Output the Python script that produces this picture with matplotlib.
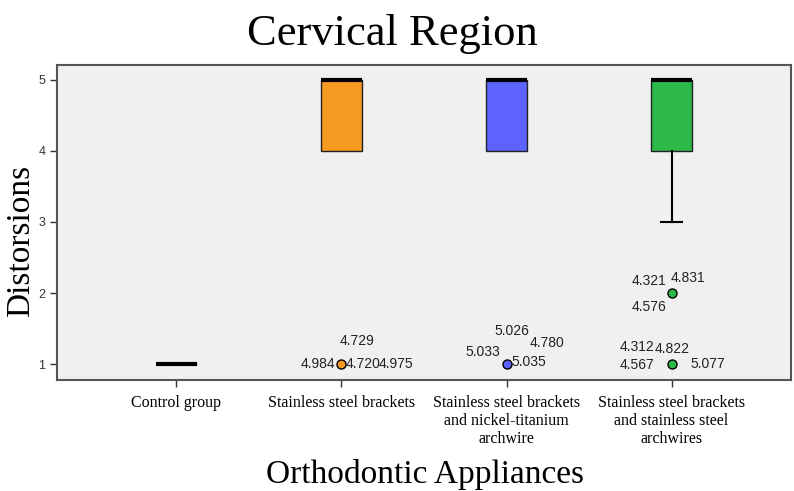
import matplotlib.pyplot as plt

groups = ["Control group",
          "Stainless steel brackets",
          "Stainless steel brackets\nand nickel-titanium\narchwire",
          "Stainless steel brackets\nand stainless steel\narchwires"]
medians = [1, 5, 5, 5]
q1 = [1, 4, 4, 4]
q3 = [1, 5, 5, 5]
whisk_lo = [1, 4, 4, 3]
whisk_hi = [1, 5, 5, 5]
outliers = [[], [1], [1], [2, 1]]
colors = ["#000000", "#F79A22", "#5C63FF", "#2DB84A"]

# outlier case labels: (group index, value, label)
case_labels = [(1, 1, "4.984"), (1, 1, "4.720"), (1, 1, "4.975"), (1, 1, "4.729"),
               (2, 1, "5.033"), (2, 1, "5.035"), (2, 1, "5.026"), (2, 1, "4.780"),
               (3, 2, "4.321"), (3, 2, "4.831"), (3, 2, "4.576"),
               (3, 1, "4.312"), (3, 1, "4.822"), (3, 1, "4.567"), (3, 1, "5.077")]
# label offsets in pixels (dx, dy, ha)
offsets = [(-6, 0, "right"), (4, 0, "left"), (37, 0, "left"), (-2, 23, "left"),
           (-6, 12, "right"), (5, 2, "left"), (-12, 33, "left"), (23, 21, "left"),
           (-5, 12, "right"), (-1, 15, "left"), (-5, -14, "right"),
           (-17, 17, "right"), (-17, 15, "left"), (-17, -1, "right"), (19, 0, "left")]

fig = plt.figure(figsize=(7.94, 4.91), dpi=100)
ax = fig.add_axes([0.0718, 0.226, 0.9244, 0.6416])
ax.set_facecolor("#F0F0F0")

stats = []
for i in range(len(groups)):
    stats.append(dict(med=medians[i], q1=q1[i], q3=q3[i], whislo=whisk_lo[i],
                      whishi=whisk_hi[i], fliers=outliers[i], label=groups[i]))

pos = [1, 2, 3, 4]
bp = ax.bxp(stats, positions=pos, widths=0.25, patch_artist=True, showfliers=True,
            boxprops=dict(edgecolor="#222222", linewidth=1),
            medianprops=dict(color="black", linewidth=3, solid_capstyle="butt"),
            whiskerprops=dict(color="black", linewidth=1.5),
            capprops=dict(color="black", linewidth=1.5),
            capwidths=0.125,
            flierprops=dict(marker="o", markersize=6.5, markeredgecolor="black",
                            markeredgewidth=1, linestyle="none"))
for patch, c in zip(bp["boxes"], colors):
    patch.set_facecolor(c)
for fl, c in zip(bp["fliers"], colors):
    fl.set_markerfacecolor(c)
# caps that sit on the box edge are not shown
for i in range(len(groups)):
    if whisk_lo[i] == q1[i]:
        bp["caps"][2 * i].set_visible(False)
    if whisk_hi[i] == q3[i]:
        bp["caps"][2 * i + 1].set_visible(False)

for (g, v, lab), (dx, dy, ha) in zip(case_labels, offsets):
    ax.annotate(lab, (pos[g], v), xytext=(dx, dy), textcoords="offset pixels",
                ha=ha, va="center", fontsize=10, color="#222222",
                family="Liberation Sans")

ax.set_xlim(0.276, 4.724)
ax.set_ylim(0.775, 5.21)
ax.set_yticks([1, 2, 3, 4, 5])
ax.set_yticklabels(["1", "2", "3", "4", "5"], family="Liberation Sans",
                   fontsize=9, color="#333333")
ax.set_xticks(pos)
ax.set_xticklabels(groups, family="Liberation Serif", fontsize=11.5,
                   linespacing=1.15)
ax.tick_params(axis="both", direction="out", length=5, width=1, color="#333333")
ax.tick_params(axis="x", pad=6)
for s in ax.spines.values():
    s.set_color("#555555")
    s.set_linewidth(1.5)

fig.text(0.494, 0.908, "Cervical Region", family="Liberation Serif",
         fontsize=32, ha="center", va="baseline")
fig.text(0.535, 0.017, "Orthodontic Appliances", family="Liberation Serif",
         fontsize=24, ha="center", va="baseline")
fig.text(0.026, 0.51, "Distorsions", family="Liberation Serif", fontsize=24,
         rotation=90, ha="center", va="center")

fig.savefig("out.png", dpi=100)
